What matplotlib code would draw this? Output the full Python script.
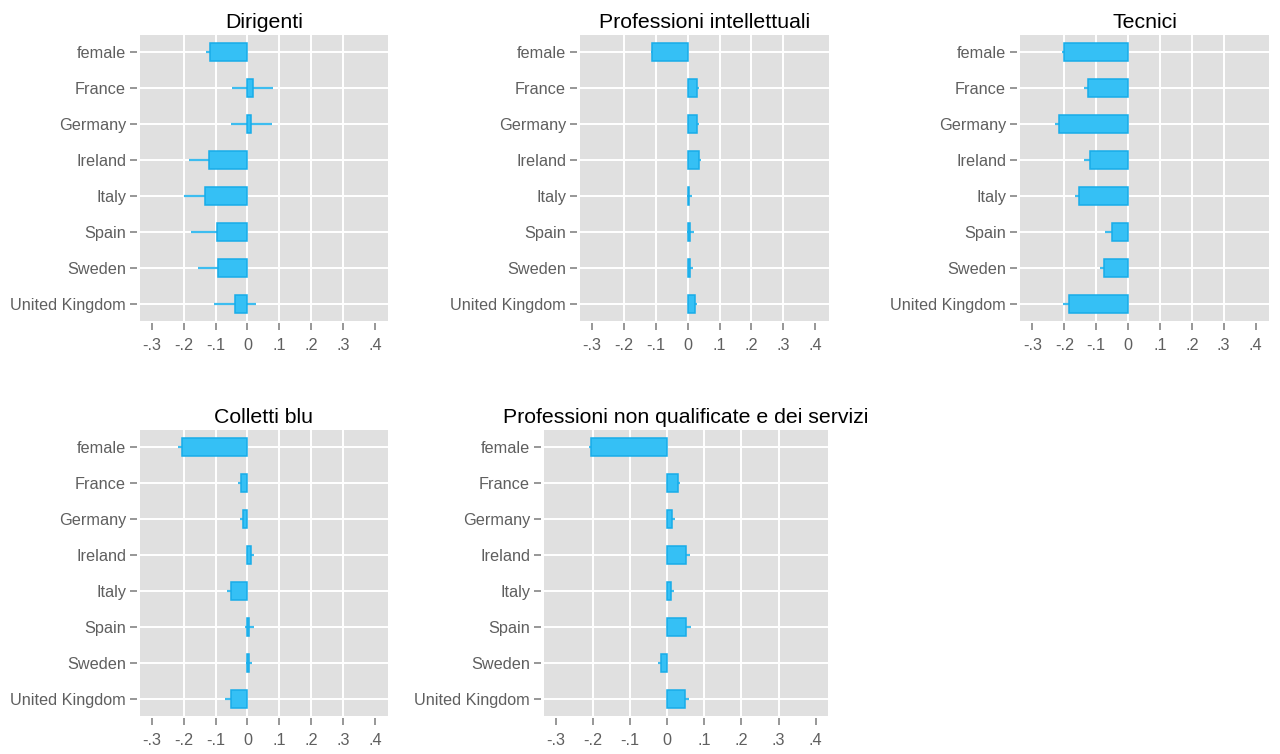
import numpy as np
import matplotlib as mpl
mpl.use("Agg")
import matplotlib.pyplot as plt

plt.rcParams['font.family'] = ['Liberation Sans', 'DejaVu Sans']

categories = ['female', 'France', 'Germany', 'Ireland', 'Italy', 'Spain',
              'Sweden', 'United Kingdom']
xtick_vals = [-0.3, -0.2, -0.1, 0.0, 0.1, 0.2, 0.3, 0.4]
xtick_labels = ['-.3', '-.2', '-.1', '0', '.1', '.2', '.3', '.4']

# coefficients and half-width of the confidence interval, one pair per occupation
dirigenti = [-0.117, 0.017, 0.012, -0.119, -0.133, -0.095, -0.091, -0.040]
dirigenti_ci = [0.013, 0.064, 0.064, 0.065, 0.067, 0.081, 0.064, 0.066]

intellettuali = [-0.111, 0.029, 0.030, 0.036, 0.006, 0.009, 0.009, 0.023]
intellettuali_ci = [0.003, 0.007, 0.006, 0.007, 0.008, 0.012, 0.008, 0.007]

tecnici = [-0.201, -0.125, -0.216, -0.120, -0.155, -0.051, -0.076, -0.186]
tecnici_ci = [0.006, 0.013, 0.013, 0.018, 0.013, 0.020, 0.013, 0.017]

colletti = [-0.206, -0.020, -0.014, 0.010, -0.052, 0.006, 0.005, -0.052]
colletti_ci = [0.011, 0.009, 0.009, 0.010, 0.013, 0.014, 0.009, 0.017]

non_qualificate = [-0.205, 0.029, 0.013, 0.051, 0.011, 0.052, -0.015, 0.047]
non_qualificate_ci = [0.004, 0.007, 0.009, 0.010, 0.008, 0.013, 0.008, 0.011]

BAR = '#35C0F5'
EDGE = '#18ACE9'
WHISK = '#3DBDF0'
TXT = '#5f5f5f'

W, H = 1280, 754
fig = plt.figure(figsize=(W / 100, H / 100), dpi=100)


def panel(px, title, coef, ci, xlim):
    # px = (left, top, right, bottom) in pixels
    l, t, r, b = px
    ax = fig.add_axes([l / W, (H - b) / H, (r - l) / W, (b - t) / H])
    ax.set_facecolor('#e0e0e0')
    y = np.arange(len(categories))
    ax.hlines(y, xlim[0], xlim[1], color='white', lw=1.4, zorder=1)
    for xv in xtick_vals[1:-1]:
        ax.axvline(xv, color='white', lw=1.4, zorder=1)
    coef = np.array(coef)
    ci = np.array(ci)
    ax.hlines(y, coef - ci, coef + ci, color=WHISK, lw=1.6, zorder=2)
    ax.barh(y, coef, height=0.5, color=BAR, edgecolor=EDGE, lw=1.1, zorder=3)
    ax.set_xlim(*xlim)
    ax.set_ylim(len(categories) - 1 + 0.46, -0.48)
    ax.set_yticks(y)
    ax.set_yticklabels(categories)
    ax.set_xticks(xtick_vals)
    ax.set_xticklabels(xtick_labels)
    for s in ax.spines.values():
        s.set_visible(False)
    ax.spines['left'].set_position(('outward', 2))
    ax.spines['bottom'].set_position(('outward', 1.5))
    ax.tick_params(axis='both', colors='#7a7a7a', labelcolor=TXT,
                   labelsize=11.7, length=5, width=1.1)
    ax.tick_params(axis='x', pad=5.5)
    ax.tick_params(axis='y', pad=3)
    ax.set_title(title, fontsize=15.3, color='black', pad=5)
    return ax


panel((140, 35, 388, 321), 'Dirigenti', dirigenti, dirigenti_ci,
      (-0.337, 0.441))
panel((580, 35, 829, 321), 'Professioni intellettuali', intellettuali,
      intellettuali_ci, (-0.337, 0.443))
panel((1020, 35, 1269, 321), 'Tecnici', tecnici, tecnici_ci,
      (-0.339, 0.442))
panel((140, 430, 388, 716), 'Colletti blu', colletti, colletti_ci,
      (-0.337, 0.441))
panel((544, 430, 828, 716), 'Professioni non qualificate e dei servizi',
      non_qualificate, non_qualificate_ci, (-0.331, 0.433))

fig.savefig('out.png', dpi=100)
